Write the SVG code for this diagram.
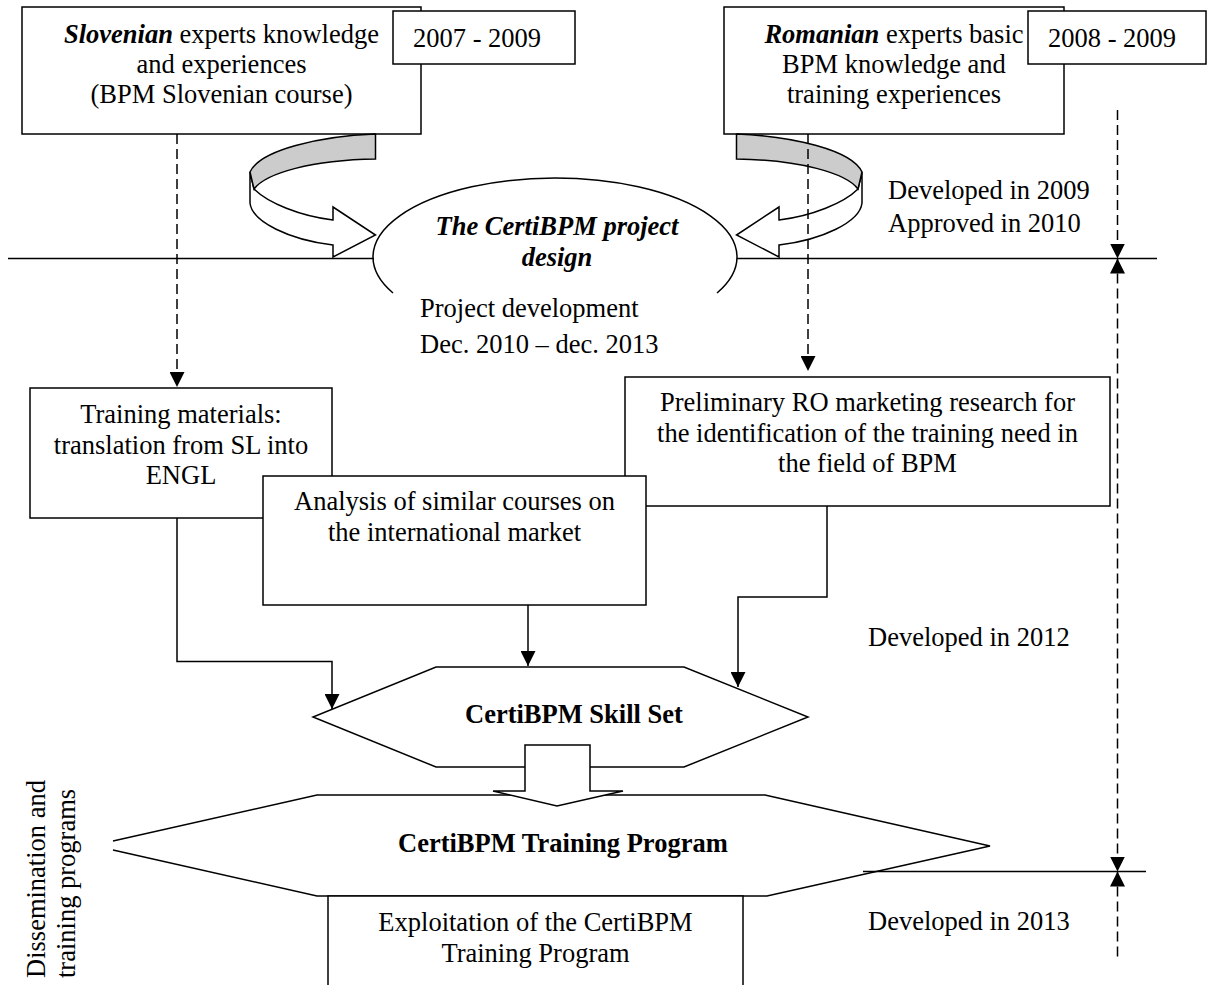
<svg xmlns="http://www.w3.org/2000/svg" width="1208" height="985" viewBox="0 0 1208 985">
<style>
text{font-family:"Liberation Serif","Times New Roman",serif;font-size:26.5px;fill:#000}
.c{text-anchor:middle}
.bi{font-weight:bold;font-style:italic}
.b{font-weight:bold}
.box{fill:#fff;stroke:#000;stroke-width:1.5}
.ln{fill:none;stroke:#000;stroke-width:1.5}
.dash{fill:none;stroke:#000;stroke-width:1.5;stroke-dasharray:10 5}
</style>
<defs>
<marker id="ah" viewBox="0 0 15 15" refX="15" refY="7.5" markerWidth="15" markerHeight="15" markerUnits="userSpaceOnUse" orient="auto-start-reverse">
<path d="M0,0 L15,7.5 L0,15 Z" fill="#000"/>
</marker>
<g id="curved">
<path d="M250,172 L250,203 C252,222 290,240 333,245 L333,257 L375.5,235 L333,207 L333,220 C300,216 268,203 254,189 Z" fill="#fff" stroke="#000" stroke-width="1.5" stroke-linejoin="miter"/>
<path d="M375.5,134 C320,136 260,150 250,172 L254,189 C266,173 312,160 375.5,159 Z" fill="#cccccc" stroke="#000" stroke-width="1.5"/>
</g>
</defs>

<g id="timeline">
<line class="ln" x1="8" y1="258.5" x2="374" y2="258.5"/>
<line class="ln" x1="737" y1="258.5" x2="1157" y2="258.5"/>
</g>

<g id="slovenian">
<rect class="box" x="22" y="7" width="399" height="127"/>
<text class="c" x="221.5" y="43"><tspan class="bi">Slovenian</tspan> experts knowledge</text>
<text class="c" x="221.5" y="73">and experiences</text>
<text class="c" x="221.5" y="103">(BPM Slovenian course)</text>
</g>
<g id="years1">
<rect class="box" x="393" y="11" width="182" height="53"/>
<text x="413" y="47">2007 - 2009</text>
</g>

<g id="romanian">
<rect class="box" x="724" y="7" width="340" height="127"/>
<text class="c" x="894" y="43"><tspan class="bi">Romanian</tspan> experts basic</text>
<text class="c" x="894" y="73">BPM knowledge and</text>
<text class="c" x="894" y="103">training experiences</text>
</g>
<g id="years2">
<rect class="box" x="1028" y="11" width="178" height="53"/>
<text x="1048" y="47">2008 - 2009</text>
</g>

<g id="design">
<path class="ln" d="M393,293 A182,79 0 1 1 717,293"/>
<text class="c bi" x="557" y="235">The CertiBPM project</text>
<text class="c bi" x="557" y="266">design</text>
</g>

<g id="dev2009">
<text x="888" y="199">Developed in 2009</text>
<text x="888" y="232">Approved in 2010</text>
</g>

<g id="projdev">
<text x="420" y="317">Project development</text>
<text x="420" y="353">Dec. 2010 – dec. 2013</text>
</g>

<g id="training">
<rect class="box" x="30" y="388" width="302" height="130"/>
<text class="c" x="181" y="423">Training materials:</text>
<text class="c" x="181" y="454">translation from SL into</text>
<text class="c" x="181" y="484">ENGL</text>
</g>

<g id="preliminary">
<rect class="box" x="625" y="377" width="485" height="129"/>
<text class="c" x="867.5" y="411">Preliminary RO marketing research for</text>
<text class="c" x="867.5" y="442">the identification of the training need in</text>
<text class="c" x="867.5" y="472">the field of BPM</text>
</g>

<g id="analysis">
<rect class="box" x="263" y="476" width="383" height="129"/>
<text class="c" x="454.5" y="510">Analysis of similar courses on</text>
<text class="c" x="454.5" y="541">the international market</text>
</g>

<g id="dev2012">
<text x="868" y="646">Developed in 2012</text>
</g>

<g id="skillset">
<polygon class="box" points="436,667 684,667 808,717 684,767 436,767 313,717"/>
<text class="b" x="465" y="723">CertiBPM Skill Set</text>
</g>

<g id="trainprog">
<path class="box" d="M113,841 L317,795 L765,795 L990,846 L767,896 L317,896 L113,850"/>
<text class="b" x="398" y="852">CertiBPM Training Program</text>
</g>

<g id="exploitation">
<rect class="box" x="328" y="896" width="415" height="110"/>
<text class="c" x="535.5" y="931">Exploitation of the CertiBPM</text>
<text class="c" x="535.5" y="962">Training Program</text>
</g>

<g id="dev2013">
<text x="868" y="930">Developed in 2013</text>
</g>

<g id="dissemination">
<text transform="translate(45,978) rotate(-90)">Dissemination and</text>
<text transform="translate(75,978) rotate(-90)">training programs</text>
</g>

<g id="connectors">
<use href="#curved"/>
<use href="#curved" transform="translate(1112,0) scale(-1,1)"/>
<line class="dash" x1="177" y1="134" x2="177" y2="387" marker-end="url(#ah)"/>
<line class="dash" x1="808" y1="134" x2="808" y2="371" marker-end="url(#ah)"/>
<line class="dash" x1="1117.5" y1="110" x2="1117.5" y2="258.5" marker-end="url(#ah)"/>
<line class="dash" x1="1117.5" y1="258.5" x2="1117.5" y2="871.5" marker-start="url(#ah)" marker-end="url(#ah)"/>
<line class="dash" x1="1117.5" y1="871.5" x2="1117.5" y2="960" marker-start="url(#ah)"/>
<polyline class="ln" points="177,518 177,661.5 332,661.5 332,709" marker-end="url(#ah)"/>
<line class="ln" x1="528" y1="605" x2="528" y2="666" marker-end="url(#ah)"/>
<polyline class="ln" points="827,506 827,597 738,597 738,687" marker-end="url(#ah)"/>
<path class="box" d="M525,745 L590,745 L590,791 L623,791 L557,806 L493,791 L525,791 Z"/>
<line class="ln" x1="863" y1="871.5" x2="1146" y2="871.5"/>
</g>
</svg>
